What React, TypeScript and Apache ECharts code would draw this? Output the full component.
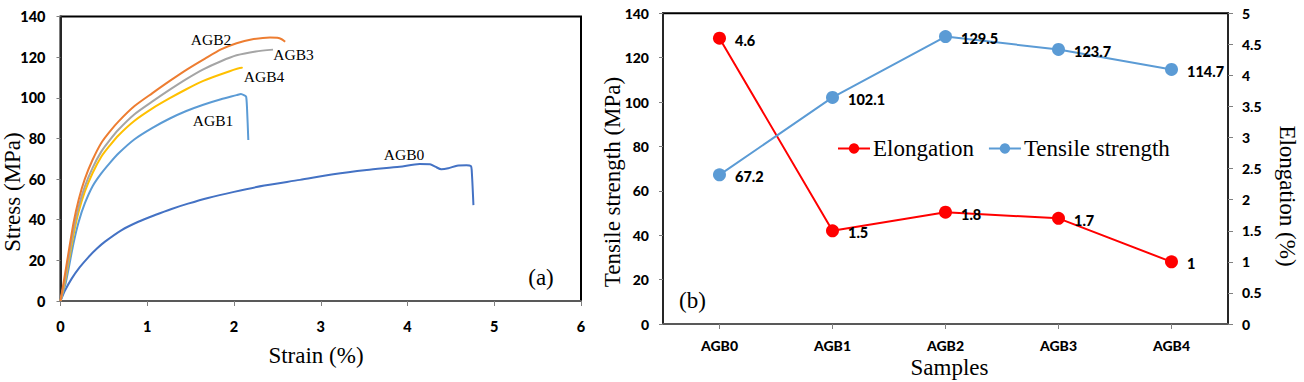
import React, { useEffect, useRef } from "react";
import * as echarts from "echarts";

// ---- Panel (a): stress-strain curves ----
const agb0Strain = [0, 0.05, 0.129, 0.22, 0.32, 0.42, 0.513, 0.705, 0.897, 1.09, 1.28, 1.47, 1.7, 2.0, 2.35, 2.76, 3.145, 3.53, 3.91, 4.14, 4.26, 4.32, 4.39, 4.47, 4.57, 4.68, 4.73, 4.74, 4.76];
const agb0Stress = [0, 5, 11, 16.5, 21.5, 25.8, 29.2, 34.9, 39, 42.3, 45.3, 47.9, 50.7, 53.7, 56.8, 59.6, 62.4, 64.5, 66.1, 67.4, 67.3, 66.1, 64.8, 65.3, 66.6, 66.8, 66.4, 64.5, 47.2];

const agb1Strain = [0, 0.06, 0.15, 0.21, 0.28, 0.37, 0.47, 0.57, 0.67, 0.85, 1.06, 1.26, 1.45, 1.646, 1.85, 2.03, 2.08, 2.12, 2.14, 2.15, 2.165];
const agb1Stress = [0, 8.9, 28.4, 39, 48, 56.5, 62.8, 68, 72.7, 79.5, 85.2, 89.8, 93.5, 96.6, 99.3, 101.3, 101.9, 101.2, 100.5, 95, 79.2];

const agb2Strain = [0, 0.06, 0.15, 0.21, 0.28, 0.37, 0.47, 0.57, 0.67, 0.85, 1.06, 1.26, 1.46, 1.666, 1.85, 2.03, 2.2, 2.415, 2.5, 2.55, 2.59];
const agb2Stress = [0, 15.3, 38.4, 50, 60, 69.5, 77.8, 83.5, 88.4, 95.8, 102.3, 108.3, 114, 119.3, 123.8, 126.8, 128.7, 129.7, 129.5, 128.8, 127.6];

const agb3Strain = [0, 0.06, 0.15, 0.21, 0.28, 0.37, 0.47, 0.57, 0.67, 0.85, 1.06, 1.26, 1.45, 1.646, 1.85, 2.03, 2.25, 2.45];
const agb3Stress = [0, 12.8, 35, 46.5, 56.3, 65.5, 73.5, 79.3, 84.4, 91.8, 98.2, 104, 109.2, 114, 118, 120.9, 122.8, 123.7];

const agb4Strain = [0, 0.06, 0.15, 0.21, 0.28, 0.37, 0.47, 0.57, 0.67, 0.85, 1.06, 1.26, 1.45, 1.646, 1.9, 2.09, 2.1];
const agb4Stress = [0, 11.3, 32.5, 44, 53.8, 63, 71, 76.6, 81.6, 88.6, 94.8, 99.8, 104.2, 108.3, 112.3, 114.8, 114.7];

// ---- Panel (b): tensile strength & elongation ----
const samples = ["AGB0", "AGB1", "AGB2", "AGB3", "AGB4"];
const tensileStrength = [67.2, 102.1, 129.5, 123.7, 114.7];
const elongation = [4.6, 1.5, 1.8, 1.7, 1];

const pairs = (xs: number[], ys: number[]) => xs.map((x, i) => [x, ys[i]]);

const SERIF = "'Liberation Serif', 'Times New Roman', serif";
const SANS = "Lato, 'Open Sans', sans-serif";

export default function App() {
  const ref = useRef<HTMLDivElement>(null);

  useEffect(() => {
    if (!ref.current) return;
    const chart = echarts.init(ref.current, null, { renderer: "svg" });

    const tickLabel = {
      fontFamily: SANS,
      fontWeight: 900,
      fontSize: 14.5,
      color: "#000",
    };

    const curve = (name: string, xs: number[], ys: number[], color: string) => ({
      name,
      type: "line",
      xAxisIndex: 0,
      yAxisIndex: 0,
      data: pairs(xs, ys),
      showSymbol: false,
      smooth: 0.25,
      lineStyle: { color, width: 2 },
      itemStyle: { color },
      z: 3,
    });

    const t = (text: string, x: number, y: number, size: number, rotation = 0) => ({
      type: "text",
      x,
      y,
      rotation,
      style: {
        text,
        x: 0,
        y: 0,
        font: `${size}px ${SERIF}`,
        fill: "#000",
        textAlign: "center",
        textVerticalAlign: "middle",
      },
      z: 10,
    });

    const dataLabel = {
      show: true,
      position: "right",
      distance: 9,
      offset: [0, 2],
      fontFamily: SANS,
      fontWeight: 900,
      fontSize: 14.5,
      color: "#000",
    };

    chart.setOption({
      animation: false,
      backgroundColor: "#fff",
      grid: [
        {
          left: 60.5,
          top: 16.5,
          width: 520.5,
          height: 284.5,
          show: true,
          borderColor: "#000",
          borderWidth: 2,
          backgroundColor: "transparent",
        },
        {
          left: 663,
          top: 13.3,
          width: 565,
          height: 310.7,
          show: true,
          borderColor: "#000",
          borderWidth: 2,
          backgroundColor: "transparent",
        },
      ],
      xAxis: [
        {
          type: "value",
          gridIndex: 0,
          min: 0,
          max: 6,
          interval: 1,
          splitLine: { show: false },
          axisLine: { lineStyle: { color: "#595959", width: 2 } },
          axisTick: { show: true, length: 5, lineStyle: { color: "#808080" } },
          axisLabel: { ...tickLabel, margin: 18 },
        },
        {
          type: "category",
          gridIndex: 1,
          data: samples,
          boundaryGap: true,
          splitLine: { show: false },
          axisLine: { lineStyle: { color: "#595959", width: 2 } },
          axisTick: { show: true, alignWithLabel: true, length: 5, lineStyle: { color: "#808080" } },
          axisLabel: { ...tickLabel, fontSize: 14, margin: 14 },
        },
      ],
      yAxis: [
        {
          type: "value",
          gridIndex: 0,
          min: 0,
          max: 140,
          interval: 20,
          splitLine: { show: false },
          axisLine: { show: true, lineStyle: { color: "#262626", width: 2 } },
          axisTick: { show: true, length: 4, lineStyle: { color: "#808080" } },
          axisLabel: { ...tickLabel, margin: 15 },
        },
        {
          type: "value",
          gridIndex: 1,
          position: "left",
          min: 0,
          max: 140,
          interval: 20,
          splitLine: { show: false },
          axisLine: { show: true, lineStyle: { color: "#262626", width: 2 } },
          axisTick: { show: true, length: 4, lineStyle: { color: "#808080" } },
          axisLabel: { ...tickLabel, fontSize: 14, margin: 14 },
        },
        {
          type: "value",
          gridIndex: 1,
          position: "right",
          min: 0,
          max: 5,
          interval: 0.5,
          splitLine: { show: false },
          axisLine: { show: true, lineStyle: { color: "#262626", width: 2 } },
          axisTick: { show: true, length: 5, lineStyle: { color: "#808080" } },
          axisLabel: { ...tickLabel, fontSize: 14, margin: 14 },
        },
      ],
      legend: {
        data: ["Elongation", "Tensile strength"],
        left: 832,
        top: 132,
        itemWidth: 32,
        itemHeight: 13,
        itemGap: 14,
        textStyle: { fontFamily: SERIF, fontSize: 23, color: "#000", padding: [0, 0, 0, -2] },
      },
      series: [
        curve("AGB0", agb0Strain, agb0Stress, "#4472C4"),
        curve("AGB1", agb1Strain, agb1Stress, "#5B9BD5"),
        curve("AGB4", agb4Strain, agb4Stress, "#FFC000"),
        curve("AGB3", agb3Strain, agb3Stress, "#A5A5A5"),
        curve("AGB2", agb2Strain, agb2Stress, "#ED7D31"),
        {
          name: "Elongation",
          type: "line",
          xAxisIndex: 1,
          yAxisIndex: 2,
          data: elongation,
          symbol: "circle",
          symbolSize: 13,
          lineStyle: { color: "#FF0000", width: 2 },
          itemStyle: { color: "#FF0000" },
          label: dataLabel,
          z: 4,
        },
        {
          name: "Tensile strength",
          type: "line",
          xAxisIndex: 1,
          yAxisIndex: 1,
          data: tensileStrength,
          symbol: "circle",
          symbolSize: 13,
          lineStyle: { color: "#5B9BD5", width: 2 },
          itemStyle: { color: "#5B9BD5" },
          label: dataLabel,
          z: 4,
        },
      ],
      graphic: [
        t("Stress (MPa)", 12, 192, 23, Math.PI / 2),
        t("Strain (%)", 316, 355, 23),
        t("(a)", 541, 277, 23),
        t("AGB2", 211, 39.5, 15.5),
        t("AGB3", 293.5, 54, 15.5),
        t("AGB4", 264, 76, 15.5),
        t("AGB1", 213, 120.7, 15.5),
        t("AGB0", 404, 154.3, 15.5),
        t("Tensile strength (MPa)", 612, 182, 23, Math.PI / 2),
        t("Elongation (%)", 1287, 196, 23, -Math.PI / 2),
        t("Samples", 949.5, 367, 23),
        t("(b)", 692.5, 300, 23),
      ],
    });

    return () => chart.dispose();
  }, []);

  return (
    <div
      ref={ref}
      style={{ position: "fixed", left: 0, top: 0, width: 1304, height: 382 }}
    />
  );
}
